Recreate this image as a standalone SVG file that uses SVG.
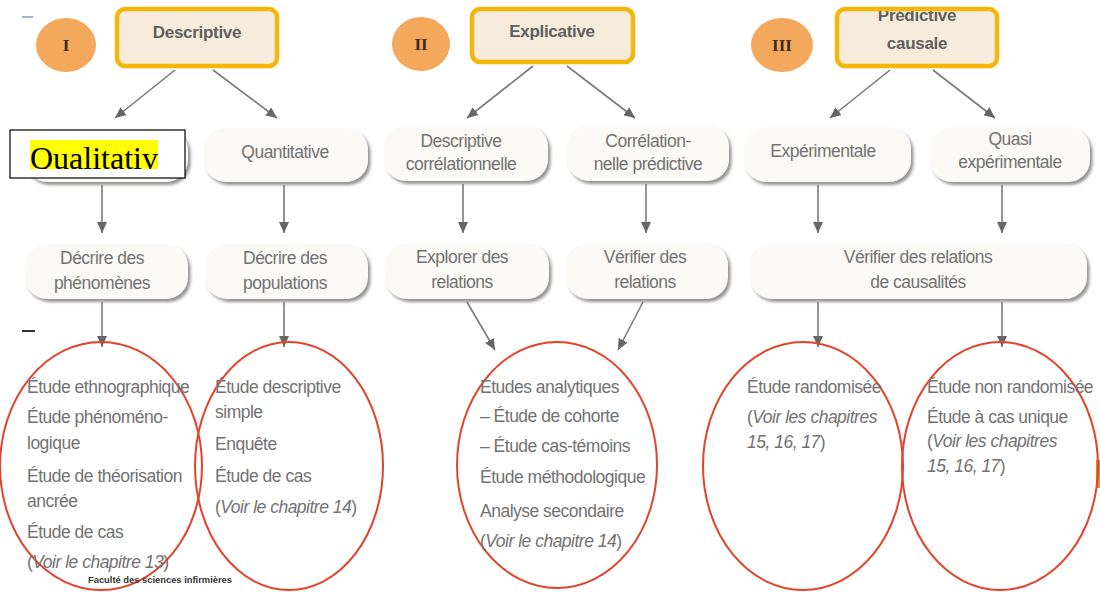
<svg xmlns="http://www.w3.org/2000/svg" width="1100" height="592" viewBox="0 0 1100 592">
  <defs>
    <style>
      .lbl { font-family: "Liberation Sans", Arial, sans-serif; font-size: 17.5px; letter-spacing: -0.5px; fill: #727272; }
      .head { font-family: "Liberation Sans", Arial, sans-serif; font-size: 17px; font-weight: bold; letter-spacing: -0.3px; fill: #5f5f5f; text-anchor: middle; }
      .pilltxt { text-anchor: middle; }
      .it { font-style: italic; }
      .num { font-family: "Liberation Serif", "Times New Roman", serif; font-size: 17px; font-weight: bold; fill: #3a2a1a; text-anchor: middle; }
      .badge { fill: #f4a85c; }
      .topbox { fill: #f7ecdb; }
      .topframe { fill: none; stroke: #f5b60c; stroke-width: 4.5; }
      .pill { fill: #fbfaf6; filter: url(#shade); }
      .conn { stroke: #7a7a7a; stroke-width: 1.6; fill: none; marker-end: url(#tip); }
      .ring { fill: none; stroke: #e2432c; stroke-width: 2; }
    </style>
    <filter id="shade" x="-10%" y="-20%" width="125%" height="150%">
      <feDropShadow dx="2.5" dy="3" stdDeviation="1.4" flood-color="#6f6f6f" flood-opacity="0.75"/>
    </filter>
    <filter id="inshade" x="-5%" y="-10%" width="110%" height="120%">
      <feDropShadow dx="-2" dy="-2" stdDeviation="1.5" flood-color="#8a8070" flood-opacity="0.6"/>
    </filter>
    <marker id="tip" markerUnits="userSpaceOnUse" markerWidth="12" markerHeight="10" refX="11" refY="5" orient="auto">
      <path d="M0,0 L11,5 L0,10 Z" fill="#666"/>
    </marker>
    <clipPath id="clipQual">
      <rect x="10" y="130" width="176" height="39"/>
    </clipPath>
  </defs>

  <rect width="1100" height="592" fill="#ffffff"/>

  <!-- stray marks -->
  <line x1="22" y1="17" x2="33" y2="17" stroke="#8a9ab8" stroke-width="1.5"/>
  <line x1="22" y1="331" x2="35" y2="331" stroke="#333" stroke-width="2"/>
  <rect x="1096" y="460" width="4" height="28" fill="#f08a10"/>

  <!-- connectors -->
  <g id="connectors">
    <line class="conn" x1="175" y1="70" x2="115" y2="118"/>
    <line class="conn" x1="213" y1="70" x2="277" y2="118"/>
    <line class="conn" x1="533" y1="66" x2="467" y2="118"/>
    <line class="conn" x1="567" y1="66" x2="635" y2="118"/>
    <line class="conn" x1="890" y1="70" x2="830" y2="118"/>
    <line class="conn" x1="933" y1="70" x2="995" y2="118"/>

    <line class="conn" x1="102" y1="185" x2="102" y2="233"/>
    <line class="conn" x1="284" y1="185" x2="284" y2="233"/>
    <line class="conn" x1="463" y1="184" x2="463" y2="233"/>
    <line class="conn" x1="646" y1="184" x2="646" y2="233"/>
    <line class="conn" x1="818" y1="185" x2="818" y2="233"/>
    <line class="conn" x1="1002" y1="185" x2="1002" y2="233"/>

    <line class="conn" x1="102" y1="302" x2="102" y2="347"/>
    <line class="conn" x1="284" y1="302" x2="284" y2="347"/>
    <line class="conn" x1="467" y1="302" x2="495" y2="350"/>
    <line class="conn" x1="643" y1="302" x2="618" y2="350"/>
    <line class="conn" x1="818" y1="302" x2="818" y2="347"/>
    <line class="conn" x1="1002" y1="302" x2="1002" y2="347"/>
  </g>

  <!-- column I -->
  <g id="badge-1">
    <ellipse class="badge" cx="66" cy="45" rx="30" ry="27"/>
    <text class="num" x="66" y="51">I</text>
  </g>
  <g id="descriptive">
    <rect class="topbox" x="117" y="9" width="160" height="57" rx="8"/>
    <text class="head" x="197" y="38">Descriptive</text>
    <rect class="topframe" x="117" y="9" width="160" height="57" rx="8"/>
  </g>
  <g id="qualitative">
    <rect class="pill" x="25" y="128" width="163" height="54" rx="22"/>
    <rect x="10" y="130" width="175" height="48" fill="#ffffff" stroke="#000" stroke-width="1.2"/>
    <rect x="30" y="140" width="128" height="29" fill="#ffff00"/>
    <text x="30" y="169" clip-path="url(#clipQual)" font-family="Liberation Serif, 'Times New Roman', serif" font-size="32" fill="#000">Qualitativ</text>
  </g>
  <g id="quantitative">
    <rect class="pill" x="204" y="128" width="164" height="54" rx="22"/>
    <text class="lbl pilltxt" x="285" y="158">Quantitative</text>
  </g>
  <g id="decrire-phenomenes">
    <rect class="pill" x="25" y="244" width="163" height="55" rx="22"/>
    <text class="lbl pilltxt" x="102" y="264">Décrire des</text>
    <text class="lbl pilltxt" x="102" y="289">phénomènes</text>
  </g>
  <g id="decrire-populations">
    <rect class="pill" x="205" y="244" width="163" height="55" rx="22"/>
    <text class="lbl pilltxt" x="285" y="264">Décrire des</text>
    <text class="lbl pilltxt" x="285" y="289">populations</text>
  </g>
  <g id="list-qualitative">
    <ellipse class="ring" cx="101" cy="466" rx="101" ry="124"/>
    <text class="lbl" x="27" y="393">Étude ethnographique</text>
    <text class="lbl" x="27" y="423">Étude phénoméno-</text>
    <text class="lbl" x="27" y="449">logique</text>
    <text class="lbl" x="27" y="482">Étude de théorisation</text>
    <text class="lbl" x="27" y="507">ancrée</text>
    <text class="lbl" x="27" y="538">Étude de cas</text>
    <text class="lbl" x="27" y="568">(<tspan class="it">Voir le chapitre 13</tspan>)</text>
    <text x="88" y="583" textLength="144" lengthAdjust="spacingAndGlyphs" font-family="Liberation Sans, Arial, sans-serif" font-size="9" font-weight="bold" fill="#333">Faculté des sciences infirmières</text>
  </g>
  <g id="list-quantitative">
    <ellipse class="ring" cx="289" cy="466" rx="94" ry="124"/>
    <text class="lbl" x="215" y="393">Étude descriptive</text>
    <text class="lbl" x="215" y="418">simple</text>
    <text class="lbl" x="215" y="450">Enquête</text>
    <text class="lbl" x="215" y="482">Étude de cas</text>
    <text class="lbl" x="215" y="513">(<tspan class="it">Voir le chapitre 14</tspan>)</text>
  </g>

  <!-- column II -->
  <g id="badge-2">
    <ellipse class="badge" cx="421" cy="44" rx="29" ry="27"/>
    <text class="num" x="421" y="50">II</text>
  </g>
  <g id="explicative">
    <rect class="topbox" x="472" y="9" width="161" height="53" rx="8"/>
    <text class="head" x="552" y="37">Explicative</text>
    <rect class="topframe" x="472" y="9" width="161" height="53" rx="8"/>
  </g>
  <g id="descriptive-correlationnelle">
    <rect class="pill" x="384" y="125" width="164" height="56" rx="22"/>
    <text class="lbl pilltxt" x="461" y="147">Descriptive</text>
    <text class="lbl pilltxt" x="461" y="170">corrélationnelle</text>
  </g>
  <g id="correlationnelle-predictive">
    <rect class="pill" x="567" y="125" width="162" height="56" rx="22"/>
    <text class="lbl pilltxt" x="648" y="147">Corrélation-</text>
    <text class="lbl pilltxt" x="648" y="170">nelle prédictive</text>
  </g>
  <g id="explorer-relations">
    <rect class="pill" x="385" y="243" width="164" height="56" rx="22"/>
    <text class="lbl pilltxt" x="462" y="263">Explorer des</text>
    <text class="lbl pilltxt" x="462" y="288">relations</text>
  </g>
  <g id="verifier-relations">
    <rect class="pill" x="566" y="243" width="162" height="56" rx="22"/>
    <text class="lbl pilltxt" x="645" y="263">Vérifier des</text>
    <text class="lbl pilltxt" x="645" y="288">relations</text>
  </g>
  <g id="list-explicative">
    <ellipse class="ring" cx="557" cy="465" rx="100" ry="123"/>
    <text class="lbl" x="480" y="393">Études analytiques</text>
    <text class="lbl" x="480" y="422">– Étude de cohorte</text>
    <text class="lbl" x="480" y="452">– Étude cas-témoins</text>
    <text class="lbl" x="480" y="483">Étude méthodologique</text>
    <text class="lbl" x="480" y="517">Analyse secondaire</text>
    <text class="lbl" x="480" y="547">(<tspan class="it">Voir le chapitre 14</tspan>)</text>
  </g>

  <!-- column III -->
  <g id="badge-3">
    <ellipse class="badge" cx="782" cy="45" rx="31" ry="27"/>
    <text class="num" x="782" y="51">III</text>
  </g>
  <g id="predictive-causale">
    <rect class="topbox" x="837" y="9" width="160" height="57" rx="8"/>
    <text class="head" x="917" y="21">Prédictive</text>
    <text class="head" x="917" y="49">causale</text>
    <rect class="topframe" x="837" y="9" width="160" height="57" rx="8"/>
  </g>
  <g id="experimentale">
    <rect class="pill" x="744" y="127" width="167" height="55" rx="22"/>
    <text class="lbl pilltxt" x="823" y="157">Expérimentale</text>
  </g>
  <g id="quasi-experimentale">
    <rect class="pill" x="930" y="127" width="160" height="55" rx="22"/>
    <text class="lbl pilltxt" x="1010" y="145">Quasi</text>
    <text class="lbl pilltxt" x="1010" y="168">expérimentale</text>
  </g>
  <g id="verifier-causalites">
    <rect class="pill" x="750" y="243" width="337" height="56" rx="22"/>
    <text class="lbl pilltxt" x="918" y="263">Vérifier des relations</text>
    <text class="lbl pilltxt" x="918" y="288">de causalités</text>
  </g>
  <g id="list-experimentale">
    <ellipse class="ring" cx="803" cy="466" rx="100" ry="124"/>
    <text class="lbl" x="747" y="393">Étude randomisée</text>
    <text class="lbl" x="747" y="423">(<tspan class="it">Voir les chapitres</tspan></text>
    <text class="lbl" x="747" y="448"><tspan class="it">15, 16, 17</tspan>)</text>
  </g>
  <g id="list-quasi">
    <ellipse class="ring" cx="1000" cy="466" rx="98" ry="124"/>
    <text class="lbl" x="927" y="393">Étude non randomisée</text>
    <text class="lbl" x="927" y="423">Étude à cas unique</text>
    <text class="lbl" x="927" y="447">(<tspan class="it">Voir les chapitres</tspan></text>
    <text class="lbl" x="927" y="472"><tspan class="it">15, 16, 17</tspan>)</text>
  </g>
</svg>
